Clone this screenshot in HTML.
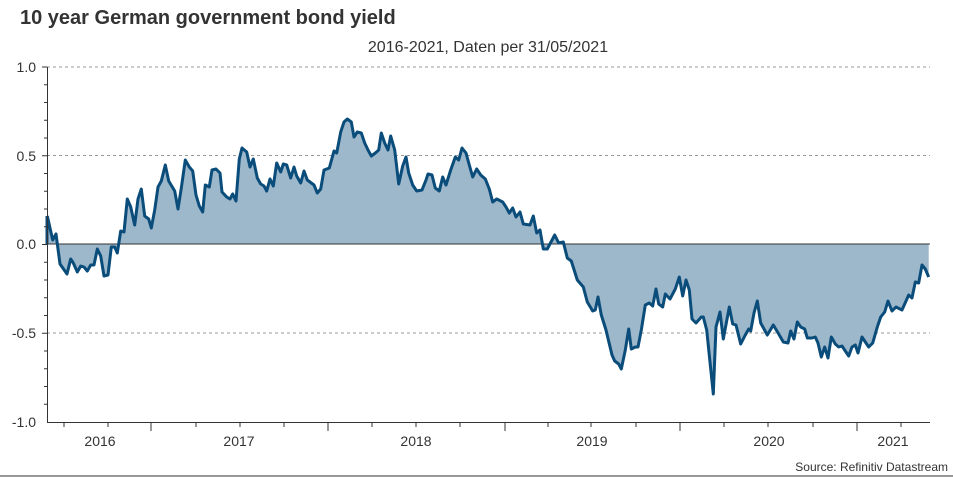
<!DOCTYPE html>
<html><head><meta charset="utf-8"><style>
body{margin:0;background:#fff;}
svg{display:block;font-family:"Liberation Sans",Arial,sans-serif;}
</style></head><body>
<svg width="953" height="477" viewBox="0 0 953 477" xmlns="http://www.w3.org/2000/svg">
<rect width="953" height="477" fill="#fff"/>
<text x="20" y="24" font-size="20" font-weight="bold" fill="#333">10 year German government bond yield</text>
<text x="488" y="52" font-size="16" fill="#333" text-anchor="middle">2016-2021, Daten per 31/05/2021</text>
<g stroke="#999" stroke-dasharray="3,3" stroke-width="1">
<line x1="47" y1="67" x2="930" y2="67"/>
<line x1="47" y1="155.5" x2="930" y2="155.5"/>
<line x1="47" y1="333" x2="930" y2="333"/>
</g>
<path id="d" d="M47.3,216 L52.7,240 L56,234 L60,264 L67,274 L70.7,259 L73.3,263 L77.3,272 L80.7,266 L84,267 L87.3,271 L90.7,265 L94,265 L97.3,249 L100.7,256 L104,276 L108,275 L111.3,247 L114.7,247 L117.3,253 L120.7,231 L124,232 L127.3,199 L130.7,207 L134.7,225 L138,199 L141.3,189 L144.7,216 L148.7,219 L151.3,228 L154.7,210 L158,187 L161.3,181 L165.3,165 L168.7,181 L174.7,191 L178,209 L181.3,188 L185.3,160 L189.3,167 L192.7,171 L196,195 L199.3,206 L202.7,212 L205.3,185 L209.3,187 L212,170 L216,169 L220,173 L222,192 L226.7,197 L230,199 L232.7,194 L236,201 L239.3,159 L242,148 L246.7,152 L250,167 L253.3,159 L257.3,178 L260.7,184 L264,186 L266.7,191 L270,179 L273.3,186 L276.7,163 L280.7,172 L283.3,164 L286.7,165 L290.7,178 L294,167 L296.7,176 L300.7,183 L304,171 L307.3,180 L311.3,183 L314,185 L317.3,193 L320.7,189 L324,170 L329.3,168 L334,151 L336.7,153 L340.7,132 L344,122 L347.3,119 L351.3,122 L354,137 L357.3,132 L361.3,133 L364.7,143 L368,150 L371.3,156 L375.3,153 L378.7,150 L381.3,133 L384.7,143 L388,150 L390.7,136 L394.7,150 L398.7,184 L402.7,166 L406,157 L408.7,173 L412.7,185 L416.7,191 L422,190 L426,180 L428,174 L432,175 L435.3,188 L439.3,191 L442.7,177 L446,185 L450.7,170 L455.3,157 L458.7,160 L462,148 L466,153 L469.3,165 L472.7,177 L476.7,169 L480.7,175 L485.3,179 L489.3,189 L492.7,202 L496.7,199 L502.7,202 L506,207 L509.3,213 L512.7,208 L516,217 L520,212 L523.3,224 L530,225 L533.3,216 L536.7,233 L540,230 L543.3,249 L547.3,249 L554.7,235 L558.7,243 L563.3,242 L567.3,258 L571.3,261 L577.3,280 L583.3,287 L587.3,302 L592.7,311 L595.3,310 L598,297 L601.3,315 L606,330 L612,355 L614.7,361 L618.7,364 L621.3,369 L625.3,350 L628.7,329 L631.3,349 L635.3,347 L638,347 L641.3,330 L645.3,305 L649.3,303 L652.7,306 L656,289 L658.7,304 L662.7,307 L665.3,294 L670,299 L675.3,289 L679.3,277 L682.7,296 L686,280 L689.3,290 L692,319 L696,323 L701.3,317 L703.3,317 L706.7,330 L713.3,394 L716,327 L720,312 L723.3,339 L729.3,307 L732.7,324 L736,325 L740.7,344 L745.3,335 L748.7,329 L750.7,331 L754,313 L757.3,301 L760.7,323 L767.3,335 L773.3,325 L778.7,334 L783.3,342 L788,343 L790.7,331 L794,339 L797.3,322 L800.7,327 L804.7,329 L807.3,338 L812,338 L815.3,337 L818,343 L821.3,357 L824.7,347 L828,358 L831.3,337 L835.3,344 L838.7,347 L842,346 L845.3,351 L848.7,356 L852,347 L855.3,345 L858,353 L862,337 L865.3,342 L868.7,347 L872.7,343 L877.3,327 L880.7,317 L884.7,312 L888,301 L892,311 L896,307 L902,310 L908.7,295 L912,298 L915.3,282 L918.7,283 L922,265 L925.3,269 L928.7,277" fill="none"/>
<path d="M47.3,244 L47.3,216 L52.7,240 L56,234 L60,264 L67,274 L70.7,259 L73.3,263 L77.3,272 L80.7,266 L84,267 L87.3,271 L90.7,265 L94,265 L97.3,249 L100.7,256 L104,276 L108,275 L111.3,247 L114.7,247 L117.3,253 L120.7,231 L124,232 L127.3,199 L130.7,207 L134.7,225 L138,199 L141.3,189 L144.7,216 L148.7,219 L151.3,228 L154.7,210 L158,187 L161.3,181 L165.3,165 L168.7,181 L174.7,191 L178,209 L181.3,188 L185.3,160 L189.3,167 L192.7,171 L196,195 L199.3,206 L202.7,212 L205.3,185 L209.3,187 L212,170 L216,169 L220,173 L222,192 L226.7,197 L230,199 L232.7,194 L236,201 L239.3,159 L242,148 L246.7,152 L250,167 L253.3,159 L257.3,178 L260.7,184 L264,186 L266.7,191 L270,179 L273.3,186 L276.7,163 L280.7,172 L283.3,164 L286.7,165 L290.7,178 L294,167 L296.7,176 L300.7,183 L304,171 L307.3,180 L311.3,183 L314,185 L317.3,193 L320.7,189 L324,170 L329.3,168 L334,151 L336.7,153 L340.7,132 L344,122 L347.3,119 L351.3,122 L354,137 L357.3,132 L361.3,133 L364.7,143 L368,150 L371.3,156 L375.3,153 L378.7,150 L381.3,133 L384.7,143 L388,150 L390.7,136 L394.7,150 L398.7,184 L402.7,166 L406,157 L408.7,173 L412.7,185 L416.7,191 L422,190 L426,180 L428,174 L432,175 L435.3,188 L439.3,191 L442.7,177 L446,185 L450.7,170 L455.3,157 L458.7,160 L462,148 L466,153 L469.3,165 L472.7,177 L476.7,169 L480.7,175 L485.3,179 L489.3,189 L492.7,202 L496.7,199 L502.7,202 L506,207 L509.3,213 L512.7,208 L516,217 L520,212 L523.3,224 L530,225 L533.3,216 L536.7,233 L540,230 L543.3,249 L547.3,249 L554.7,235 L558.7,243 L563.3,242 L567.3,258 L571.3,261 L577.3,280 L583.3,287 L587.3,302 L592.7,311 L595.3,310 L598,297 L601.3,315 L606,330 L612,355 L614.7,361 L618.7,364 L621.3,369 L625.3,350 L628.7,329 L631.3,349 L635.3,347 L638,347 L641.3,330 L645.3,305 L649.3,303 L652.7,306 L656,289 L658.7,304 L662.7,307 L665.3,294 L670,299 L675.3,289 L679.3,277 L682.7,296 L686,280 L689.3,290 L692,319 L696,323 L701.3,317 L703.3,317 L706.7,330 L713.3,394 L716,327 L720,312 L723.3,339 L729.3,307 L732.7,324 L736,325 L740.7,344 L745.3,335 L748.7,329 L750.7,331 L754,313 L757.3,301 L760.7,323 L767.3,335 L773.3,325 L778.7,334 L783.3,342 L788,343 L790.7,331 L794,339 L797.3,322 L800.7,327 L804.7,329 L807.3,338 L812,338 L815.3,337 L818,343 L821.3,357 L824.7,347 L828,358 L831.3,337 L835.3,344 L838.7,347 L842,346 L845.3,351 L848.7,356 L852,347 L855.3,345 L858,353 L862,337 L865.3,342 L868.7,347 L872.7,343 L877.3,327 L880.7,317 L884.7,312 L888,301 L892,311 L896,307 L902,310 L908.7,295 L912,298 L915.3,282 L918.7,283 L922,265 L925.3,269 L928.7,277 L928.7,244 Z" fill="#9db7cb"/>
<line x1="47" y1="244" x2="930" y2="244" stroke="#333" stroke-width="1"/>
<use href="#d" stroke="#0a4c7a" stroke-width="3" stroke-linejoin="round"/>
<path d="M47,244 L47,216" stroke="#0a4c7a" stroke-width="3" fill="none"/>
<g stroke="#333" stroke-width="1">
<line x1="47.5" y1="67" x2="47.5" y2="423"/>
<line x1="47" y1="422.5" x2="930" y2="422.5"/>
<line x1="0" y1="476" x2="953" y2="476"/>
</g>
<g stroke="#333" stroke-width="1" id="yt">
<line x1="42" y1="67" x2="47" y2="67"/><line x1="44" y1="84.75" x2="47" y2="84.75"/><line x1="44" y1="102.5" x2="47" y2="102.5"/><line x1="44" y1="120.25" x2="47" y2="120.25"/><line x1="44" y1="138" x2="47" y2="138"/><line x1="42" y1="155.75" x2="47" y2="155.75"/><line x1="44" y1="173.5" x2="47" y2="173.5"/><line x1="44" y1="191.25" x2="47" y2="191.25"/><line x1="44" y1="209" x2="47" y2="209"/><line x1="44" y1="226.75" x2="47" y2="226.75"/><line x1="42" y1="244.5" x2="47" y2="244.5"/><line x1="44" y1="262.25" x2="47" y2="262.25"/><line x1="44" y1="280" x2="47" y2="280"/><line x1="44" y1="297.75" x2="47" y2="297.75"/><line x1="44" y1="315.5" x2="47" y2="315.5"/><line x1="42" y1="333.25" x2="47" y2="333.25"/><line x1="44" y1="351" x2="47" y2="351"/><line x1="44" y1="368.75" x2="47" y2="368.75"/><line x1="44" y1="386.5" x2="47" y2="386.5"/><line x1="44" y1="404.25" x2="47" y2="404.25"/>
</g>
<g stroke="#333" stroke-width="1">
<line x1="64" y1="423" x2="64" y2="427"/><line x1="108" y1="423" x2="108" y2="427"/><line x1="151" y1="423" x2="151" y2="431"/><line x1="196" y1="423" x2="196" y2="427"/><line x1="240" y1="423" x2="240" y2="427"/><line x1="284" y1="423" x2="284" y2="427"/><line x1="328" y1="423" x2="328" y2="431"/><line x1="372" y1="423" x2="372" y2="427"/><line x1="416" y1="423" x2="416" y2="427"/><line x1="460" y1="423" x2="460" y2="427"/><line x1="505" y1="423" x2="505" y2="431"/><line x1="548" y1="423" x2="548" y2="427"/><line x1="591" y1="423" x2="591" y2="427"/><line x1="636" y1="423" x2="636" y2="427"/><line x1="680" y1="423" x2="680" y2="431"/><line x1="724" y1="423" x2="724" y2="427"/><line x1="768" y1="423" x2="768" y2="427"/><line x1="813" y1="423" x2="813" y2="427"/><line x1="857" y1="423" x2="857" y2="431"/><line x1="901" y1="423" x2="901" y2="427"/>
</g>
<g font-size="14" fill="#333" text-anchor="end">
<text x="36" y="72">1.0</text><text x="36" y="161">0.5</text><text x="36" y="249">0.0</text><text x="36" y="338">-0.5</text><text x="36" y="427">-1.0</text>
</g>
<g font-size="14" fill="#333" text-anchor="middle">
<text x="100" y="446">2016</text><text x="239" y="446">2017</text><text x="416" y="446">2018</text><text x="592" y="446">2019</text><text x="769" y="446">2020</text><text x="893" y="446">2021</text>
</g>
<text x="948" y="471" font-size="12" fill="#333" text-anchor="end">Source: Refinitiv Datastream</text>
</svg>
</body></html>
